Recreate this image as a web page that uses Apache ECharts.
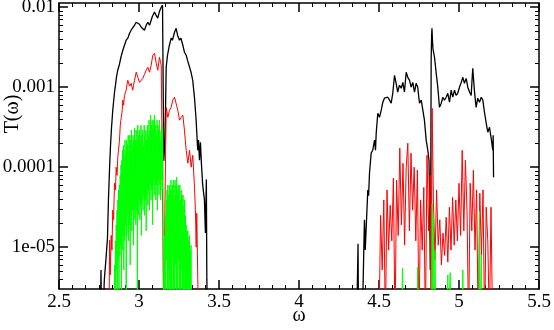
<!DOCTYPE html>
<html>
<head>
<meta charset="utf-8">
<script src="https://cdn.jsdelivr.net/npm/echarts@6.0.0/dist/echarts.min.js"></script>
<style>
html, body { margin: 0; padding: 0; background: #fff; }
#chart { width: 554px; height: 330px; }
</style>
</head>
<body>
<div id="chart"></div>
<script>
// [omega, T(omega)]; 1e-6 means "below the bottom of the plot"
const black1 = [[2.758,1e-6],[2.7625,5.2e-6],[2.766,1e-6],[2.779,1e-6],[2.782,3.4e-6],[2.784,4.1e-6],[2.794,7.3e-6],[2.803,1.3e-5],[2.809,3.9e-5],[2.816,9.7e-5],[2.822,1.88e-4],[2.828,3.07e-4],[2.836,5.16e-4],[2.847,8.66e-4],[2.853,1.06e-3],[2.859,1.33e-3],[2.867,1.63e-3],[2.878,1.94e-3],[2.887,2.37e-3],[2.899,2.9e-3],[2.909,3.35e-3],[2.92,3.87e-3],[2.93,4.1e-3],[2.941,4.73e-3],[2.951,5.16e-3],[2.959,5.46e-3],[2.972,5.96e-3],[2.982,6.5e-3],[2.992,6.88e-3],[3.003,6.13e-3],[3.014,5.62e-3],[3.022,5.46e-3],[3.034,5.16e-3],[3.045,5.96e-3],[3.055,6.5e-3],[3.066,5.96e-3],[3.076,6.3e-3],[3.084,7.7e-3],[3.097,8.7e-3],[3.107,7.9e-3],[3.117,7.3e-3],[3.128,8.9e-3],[3.139,1.0e-2],[3.147,1.06e-2],[3.152,1.09e-2],[3.155,1.2e-4],[3.1625,2.18e-4],[3.17,1.78e-3],[3.178,2.51e-3],[3.19,3.35e-3],[3.201,4.1e-3],[3.209,3.87e-3],[3.222,4.87e-3],[3.232,5.46e-3],[3.241,4.47e-3],[3.253,3.87e-3],[3.262,4.1e-3],[3.274,3.35e-3],[3.284,2.74e-3],[3.295,2.51e-3],[3.303,2.18e-3],[3.316,1.78e-3],[3.325,1.54e-3],[3.336,1.22e-3],[3.347,7.3e-4],[3.357,3.9e-4],[3.367,1.63e-4],[3.372,2.18e-4],[3.378,1.22e-4],[3.384,2.05e-4],[3.39,1.12e-4],[3.398,6.0e-5],[3.409,3.9e-5],[3.415,1.5e-5],[3.421,7.0e-5],[3.424,3.9e-6],[3.43,1e-6]];
const black2 = [[4.36,1e-6],[4.366,1e-6],[4.369,1.1e-5],[4.372,1e-6],[4.395,1e-6],[4.409,2.2e-5],[4.414,9.2e-6],[4.43,5.2e-5],[4.435,4.4e-5],[4.4406,8.4e-5],[4.451,1.5e-4],[4.461,1.63e-4],[4.472,2.18e-4],[4.478,1.63e-4],[4.4825,2.66e-4],[4.4925,4.73e-4],[4.503,4.2e-4],[4.514,5.16e-4],[4.524,6.5e-4],[4.534,7.3e-4],[4.545,6.9e-4],[4.555,7.5e-4],[4.566,6.9e-4],[4.576,6.3e-4],[4.586,8.4e-4],[4.597,1.41e-3],[4.607,1.12e-3],[4.617,8.7e-4],[4.628,1.06e-3],[4.639,9.7e-4],[4.649,1.15e-3],[4.659,8.7e-4],[4.67,1.54e-3],[4.68,1.33e-3],[4.691,1.22e-3],[4.701,1.0e-3],[4.711,1.15e-3],[4.722,8.7e-4],[4.732,1.12e-3],[4.742,1.0e-3],[4.753,6.3e-4],[4.764,6.9e-4],[4.774,5.16e-4],[4.784,3.87e-4],[4.795,2.18e-4],[4.805,1.63e-4],[4.8125,1.22e-4],[4.8175,2.2e-5],[4.8206,5.2e-6],[4.8225,1.5e-5],[4.826,2.2e-3],[4.829,4.47e-3],[4.831,5.46e-3],[4.834,3.87e-3],[4.8375,3.0e-3],[4.847,2.37e-3],[4.8575,1.5e-3],[4.8675,1.0e-3],[4.878,5.6e-4],[4.889,6.3e-4],[4.899,7.5e-4],[4.909,6.9e-4],[4.92,7.5e-4],[4.93,8.4e-4],[4.9406,6.5e-4],[4.951,9.2e-4],[4.961,7.5e-4],[4.972,9.2e-4],[4.982,7.9e-4],[4.992,8.4e-4],[5.003,1.0e-3],[5.014,1.15e-3],[5.024,1.33e-3],[5.034,1.12e-3],[5.045,1.29e-3],[5.055,1.0e-3],[5.0656,8.7e-4],[5.076,7.9e-4],[5.086,1.73e-3],[5.097,8.7e-4],[5.107,5.6e-4],[5.117,7.3e-4],[5.128,6.5e-4],[5.139,7.5e-4],[5.149,6.9e-4],[5.159,4.9e-4],[5.17,3.55e-4],[5.18,2.74e-4],[5.1906,3.16e-4],[5.201,2.3e-4],[5.211,1.63e-4],[5.2135,2.5e-4],[5.216,7.5e-5]];

const red1 = [[2.8125,1e-6],[2.816,1.22e-5],[2.82,4.5e-6],[2.826,1.4e-5],[2.831,9.2e-6],[2.836,2.9e-5],[2.841,2.2e-5],[2.847,6.3e-5],[2.853,5.2e-5],[2.8575,1.0e-4],[2.8625,7.9e-5],[2.8675,1.33e-4],[2.872,1.63e-4],[2.878,2.18e-4],[2.883,3.35e-4],[2.889,4.2e-4],[2.894,4.9e-4],[2.899,6.9e-4],[2.904,6.0e-4],[2.909,7.9e-4],[2.92,9.2e-4],[2.925,1.09e-3],[2.93,1.22e-3],[2.941,1.03e-3],[2.951,1.12e-3],[2.961,9.2e-4],[2.966,1.06e-3],[2.972,1.22e-3],[2.9825,1.54e-3],[2.9925,1.33e-3],[3.003,1.15e-3],[3.014,1.12e-3],[3.024,1.29e-3],[3.034,1.45e-3],[3.045,1.63e-3],[3.055,1.78e-3],[3.066,1.54e-3],[3.076,1.88e-3],[3.086,2.51e-3],[3.097,2.66e-3],[3.1075,2.0e-3],[3.1175,1.63e-3],[3.128,2.37e-3],[3.139,1.88e-3],[3.149,1.78e-3],[3.155,1e-6],[3.1625,3.9e-5],[3.17,5.6e-4],[3.18,4.2e-4],[3.191,5.16e-4],[3.201,5.6e-4],[3.211,6.9e-4],[3.222,7.5e-4],[3.2325,7.5e-4],[3.2425,5.16e-4],[3.253,3.87e-4],[3.264,4.2e-4],[3.274,4.47e-4],[3.284,2.9e-4],[3.295,1.63e-4],[3.305,1.12e-4],[3.316,1.63e-4],[3.326,1.0e-4],[3.336,1.41e-4],[3.347,5.6e-5],[3.353,2.66e-5],[3.3575,1.0e-5],[3.361,2.66e-5],[3.3675,3.9e-6],[3.372,1e-6]];
const red2 = [[4.50,1e-6],[4.51,2.5e-5],[4.52,5.2e-6],[4.53,3.9e-5],[4.54,1e-6],[4.55,5.2e-5],[4.56,9.2e-6],[4.57,3.35e-5],[4.58,1.2e-5],[4.59,7.3e-5],[4.60,1e-6],[4.61,6.9e-5],[4.62,1.4e-5],[4.63,1.73e-4],[4.64,1.9e-5],[4.65,1.12e-4],[4.66,1.06e-5],[4.67,1.0e-4],[4.68,2.0e-4],[4.69,1.6e-5],[4.70,1.5e-4],[4.71,2.9e-5],[4.72,1.0e-4],[4.73,1.2e-5],[4.74,9.2e-5],[4.75,1e-6],[4.76,3.9e-5],[4.77,9.2e-6],[4.78,5.6e-5],[4.79,1e-6],[4.80,1.41e-4],[4.81,1.6e-5],[4.82,7.9e-5],[4.825,1e-6],[4.832,5.46e-4],[4.84,3.9e-5],[4.85,6.9e-6],[4.86,5.2e-5],[4.87,1.06e-5],[4.88,2.2e-5],[4.89,6.0e-6],[4.90,1.5e-5],[4.91,7.9e-6],[4.92,2.37e-5],[4.93,6.5e-6],[4.94,3.16e-5],[4.95,9.2e-6],[4.96,4.2e-5],[4.97,1.06e-5],[4.98,3.9e-5],[4.99,1.2e-5],[5.00,6.3e-5],[5.01,1.4e-5],[5.02,1.63e-4],[5.03,1.6e-5],[5.04,1.22e-4],[5.05,2.9e-5],[5.06,1e-6],[5.07,6.3e-5],[5.08,1.6e-5],[5.09,9.2e-5],[5.10,9.2e-6],[5.11,5.2e-5],[5.12,1e-6],[5.13,4.73e-5],[5.14,7.9e-6],[5.15,5.2e-5],[5.16,1e-6],[5.17,3.16e-5],[5.18,1.2e-5],[5.19,1e-6],[5.20,3.16e-5],[5.21,1e-6]];

const green1 = [[2.845,1e-6],[2.8475,6.0e-6],[2.85,1e-6],[2.8525,1.2e-5],[2.855,1e-6],[2.8575,1.9e-5],[2.86,5.2e-6],[2.8625,2.9e-5],[2.865,1e-6],[2.8675,3.9e-5],[2.87,6.9e-6],[2.8725,5.2e-5],[2.875,1e-6],[2.8775,6.0e-5],[2.88,7.9e-6],[2.8825,7.9e-5],[2.885,1.06e-5],[2.8875,1.06e-4],[2.89,1e-6],[2.8925,1.22e-4],[2.895,9.2e-6],[2.8975,1.63e-4],[2.9,1.4e-5],[2.9025,1.88e-4],[2.905,5.2e-6],[2.9075,1.41e-4],[2.91,1.2e-5],[2.9125,2.18e-4],[2.915,1.9e-5],[2.9175,1.63e-4],[2.92,1e-6],[2.9225,2.18e-4],[2.925,1.4e-5],[2.9275,1.88e-4],[2.93,2.5e-5],[2.9325,2.51e-4],[2.935,1.2e-5],[2.9375,1.63e-4],[2.94,1.9e-5],[2.9425,2.51e-4],[2.945,6.0e-6],[2.9475,2.18e-4],[2.95,2.5e-5],[2.9525,2.9e-4],[2.955,1.6e-5],[2.9575,1.88e-4],[2.96,2.9e-5],[2.9625,2.51e-4],[2.965,1.06e-5],[2.9675,2.18e-4],[2.97,2.2e-5],[2.9725,3.07e-4],[2.975,3.35e-5],[2.9775,2.18e-4],[2.98,1.9e-5],[2.9825,2.9e-4],[2.985,2.9e-5],[2.9875,1.88e-4],[2.99,1e-6],[2.9925,3.35e-4],[2.995,2.5e-5],[2.9975,2.51e-4],[3.0,3.9e-5],[3.0025,2.9e-4],[3.005,2.2e-5],[3.0075,2.18e-4],[3.01,3.35e-5],[3.0125,3.35e-4],[3.015,1.4e-5],[3.0175,2.51e-4],[3.02,3.9e-5],[3.0225,2.9e-4],[3.025,2.9e-5],[3.0275,1.88e-4],[3.03,4.5e-5],[3.0325,3.35e-4],[3.035,2.5e-5],[3.0375,2.51e-4],[3.04,3.9e-5],[3.0425,2.9e-4],[3.045,1.6e-5],[3.0475,2.18e-4],[3.05,4.5e-5],[3.0525,3.35e-4],[3.055,3.35e-5],[3.0575,2.51e-4],[3.06,5.2e-5],[3.0625,3.87e-4],[3.065,2.9e-5],[3.0675,2.9e-4],[3.07,6.0e-5],[3.0725,4.47e-4],[3.075,3.9e-5],[3.0775,3.35e-4],[3.08,5.2e-5],[3.0825,3.87e-4],[3.085,1.9e-5],[3.0875,2.9e-4],[3.09,6.0e-5],[3.0925,3.87e-4],[3.095,4.5e-5],[3.0975,4.47e-4],[3.1,6.9e-5],[3.1025,3.35e-4],[3.105,3.9e-5],[3.1075,2.51e-4],[3.11,6.0e-5],[3.1125,3.87e-4],[3.115,2.9e-5],[3.1175,3.35e-4],[3.12,6.9e-5],[3.1225,2.9e-4],[3.125,4.5e-5],[3.1275,3.87e-4],[3.13,6.0e-5],[3.1325,2.18e-4],[3.135,3.9e-5],[3.1375,2.9e-4],[3.14,6.9e-5],[3.1425,2.51e-4],[3.145,5.2e-5],[3.1475,3.35e-4],[3.15,7.9e-5],[3.1525,1e-6],[3.155,1e-6],[3.16,1.4e-5],[3.1625,1e-6],[3.165,2.5e-5],[3.1675,1e-6],[3.17,3.9e-5],[3.1725,6.9e-6],[3.175,5.2e-5],[3.1775,1e-6],[3.18,6.0e-5],[3.1825,1e-6],[3.185,4.5e-5],[3.1875,5.2e-6],[3.19,6.0e-5],[3.1925,1e-6],[3.195,5.2e-5],[3.1975,1e-6],[3.2,6.9e-5],[3.2025,1e-6],[3.205,5.2e-5],[3.2075,7.9e-6],[3.21,6.0e-5],[3.2125,1e-6],[3.215,6.9e-5],[3.2175,1e-6],[3.22,4.5e-5],[3.2225,1e-6],[3.225,6.9e-5],[3.2275,6.0e-6],[3.23,6.0e-5],[3.2325,1e-6],[3.235,7.5e-5],[3.2375,1e-6],[3.24,5.2e-5],[3.2425,1e-6],[3.245,6.0e-5],[3.2475,6.9e-6],[3.25,4.5e-5],[3.2525,1e-6],[3.255,6.0e-5],[3.2575,1e-6],[3.26,3.9e-5],[3.2625,1e-6],[3.265,5.2e-5],[3.2675,5.2e-6],[3.27,4.5e-5],[3.2725,1e-6],[3.275,4.5e-5],[3.2775,1e-6],[3.28,3.35e-5],[3.2825,1e-6],[3.285,3.9e-5],[3.2875,1e-6],[3.29,2.5e-5],[3.2925,1e-6],[3.295,1.9e-5],[3.2975,1e-6],[3.3,1.6e-5],[3.3025,1e-6],[3.305,1.6e-5],[3.3075,1e-6],[3.31,1.2e-5],[3.3125,1e-6],[3.315,1.4e-5],[3.3175,1e-6],[3.32,9.2e-6],[3.3225,1e-6],[3.325,1.06e-5],[3.3275,1e-6],[3.33,1e-6]];
const green2 = [[4.64,1e-6],[4.647,5.5e-6],[4.652,1e-6],[4.738,1e-6],[4.742,5.6e-6],[4.746,1e-6],[4.828,1e-6],[4.832,3.5e-5],[4.836,2e-6],[4.84,2.4e-5],[4.845,1e-6],[4.85,9e-6],[4.855,1e-6],[4.926,1e-6],[4.93,4.5e-6],[4.934,1e-6],[4.941,1e-6],[4.945,4.8e-6],[4.949,1e-6],[5.02,1e-6],[5.024,5.2e-6],[5.028,1e-6],[5.124,1e-6],[5.128,2.8e-5],[5.131,1e-6],[5.137,1e-6],[5.14,8e-6],[5.144,1e-6]];

// axis ranges and tick positions
const X_MIN = 2.5, X_MAX = 5.5, X_STEP = 0.5;
const Y_MIN = 3e-6, Y_MAX = 0.0113;
const yMajor = [1e-5, 1e-4, 1e-3, 1e-2];
const yMinor = [4e-6, 5e-6, 6e-6, 7e-6, 8e-6, 9e-6,
  2e-5, 3e-5, 4e-5, 5e-5, 6e-5, 7e-5, 8e-5, 9e-5,
  2e-4, 3e-4, 4e-4, 5e-4, 6e-4, 7e-4, 8e-4, 9e-4,
  2e-3, 3e-3, 4e-3, 5e-3, 6e-3, 7e-3, 8e-3, 9e-3];

const FONT = 'Liberation Serif';
const frame = { color: '#000', width: 1.5 };

function fmtY(v) {
  const e = Math.round(Math.log10(v));
  return e >= -4 ? v.toFixed(-e) : '1e-0' + (-e);
}

function xAxisAt(pos, labels) {
  return {
    type: 'value', position: pos, min: X_MIN, max: X_MAX, interval: X_STEP,
    axisLine: { show: true, onZero: false, lineStyle: frame },
    axisTick: { inside: true, length: 9, lineStyle: frame },
    minorTick: { show: true, splitNumber: 6, length: 4, lineStyle: { color: '#000', width: 1 } },
    axisLabel: { show: labels, fontFamily: FONT, fontSize: 19, color: '#000', margin: 4 },
    splitLine: { show: false },
    name: labels ? 'ω' : '', nameLocation: 'middle', nameGap: 17, nameMoveOverlap: false,
    nameTextStyle: { fontFamily: FONT, fontSize: 20, color: '#000', verticalAlign: 'top' }
  };
}

function yAxisAt(pos, labels, minor) {
  return {
    type: 'log', logBase: 10, position: pos, min: Y_MIN, max: Y_MAX,
    axisLine: { show: !minor, onZero: false, lineStyle: frame },
    axisTick: { inside: true, length: minor ? 4 : 9, customValues: minor ? yMinor : yMajor,
      lineStyle: { color: '#000', width: minor ? 1 : 1.5 } },
    axisLabel: { show: labels, customValues: yMajor, formatter: fmtY,
      fontFamily: FONT, fontSize: 19, color: '#000', margin: 4 },
    splitLine: { show: false }
  };
}

function lineSeries(data, color, width) {
  return {
    type: 'line', data: data, xAxisIndex: 0, yAxisIndex: 0,
    symbol: 'none', silent: true, clip: true,
    lineStyle: { color: color, width: width }
  };
}

const chart = echarts.init(document.getElementById('chart'));
chart.setOption({
  animation: false,
  backgroundColor: '#fff',
  grid: { left: 59, right: 15, top: 3, bottom: 41, outerBoundsMode: 'none' },
  xAxis: [xAxisAt('bottom', true), xAxisAt('top', false)],
  yAxis: [
    yAxisAt('left', true, false), yAxisAt('left', false, true),
    yAxisAt('right', false, false), yAxisAt('right', false, true)
  ],
  graphic: [{
    type: 'text', x: 13, y: 114, rotation: Math.PI / 2,
    style: { text: 'T(ω)', font: '20px "Liberation Serif"', fill: '#000', align: 'center', verticalAlign: 'middle' }
  }],
  series: [
    lineSeries(black1.concat(black2), '#000000', 1.3),
    lineSeries(red1.concat(red2), '#ff0000', 1),
    lineSeries(green1.concat(green2), '#00ff00', 1)
  ]
});
</script>
</body>
</html>
